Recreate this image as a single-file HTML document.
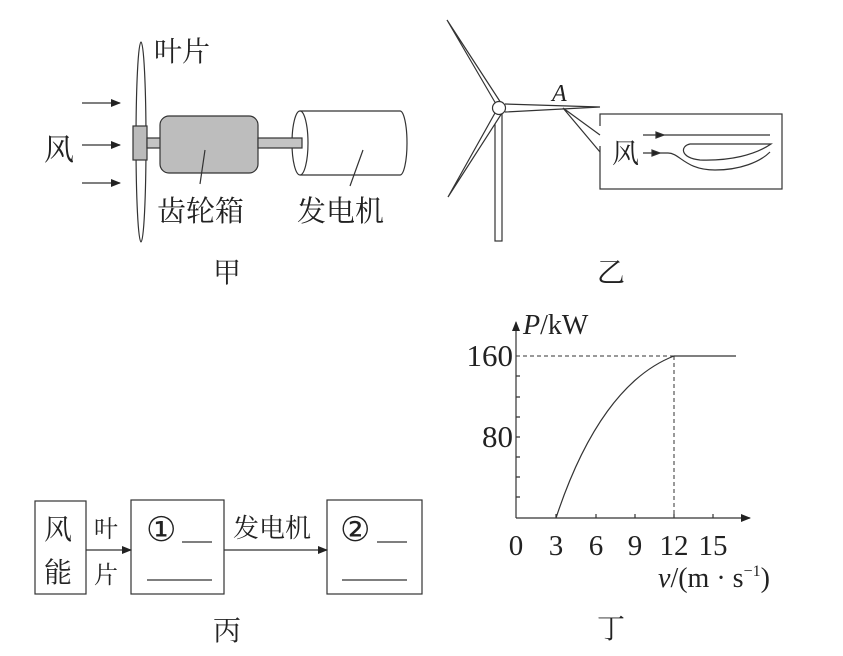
<!DOCTYPE html>
<html><head><meta charset="utf-8"><style>
html,body{margin:0;padding:0;background:#fff;}
svg{display:block;}
.cn{font-family:"Liberation Serif","Noto Serif CJK SC",serif;fill:#222;}
.sr{font-family:"Liberation Serif",serif;fill:#222;}
</style></head><body>
<svg width="843" height="656" viewBox="0 0 843 656" xmlns="http://www.w3.org/2000/svg">
<defs>
<marker id="ah" markerWidth="10" markerHeight="8" refX="9" refY="4" orient="auto" markerUnits="userSpaceOnUse">
<path d="M0,0 L10,4 L0,8 Z" fill="#222"/></marker>
</defs>
<g stroke="#333" fill="none" stroke-width="1.2">
<line x1="82" y1="103" x2="120" y2="103" marker-end="url(#ah)"/>
<line x1="82" y1="145" x2="120" y2="145" marker-end="url(#ah)"/>
<line x1="82" y1="183" x2="120" y2="183" marker-end="url(#ah)"/>
<ellipse cx="141" cy="142" rx="5" ry="100"/>
<rect x="133" y="126" width="14" height="34" fill="#bbb"/>
<rect x="147" y="138" width="14" height="10" fill="#c4c4c4"/>
<rect x="160" y="116" width="98" height="57" rx="9" fill="#bdbdbd"/>
<path d="M300,111 L400,111 A7,32 0 0 1 400,175 L300,175" fill="#fff"/>
<ellipse cx="300" cy="143" rx="8" ry="32" fill="#fff"/>
<rect x="258" y="138" width="44" height="10" fill="#c4c4c4"/>
<line x1="205" y1="150" x2="200" y2="184"/>
<line x1="363" y1="150" x2="350" y2="186"/>
<rect x="495" y="112" width="7" height="129" fill="#fff"/>
<path d="M496,104 L447,20 L501,103" fill="#fff"/>
<path d="M495,113 L448,197 L502,113" fill="#fff"/>
<path d="M505,104 L600,107 L505,112" fill="#fff"/>
<circle cx="499" cy="108" r="6.5" fill="#fff"/>
<rect x="600" y="114" width="182" height="75" fill="#fff"/>
<line x1="600" y1="126" x2="600" y2="146" stroke="#fff" stroke-width="3"/>
<path d="M563,108 L600,135 M563,108 L600,152"/>
<line x1="643" y1="135" x2="770" y2="135"/>
<path d="M656,132 L664,135 L656,138 Z" fill="#222"/>
<path d="M643,153 L668,153 C680,153 685,170 715,170 C740,170 760,162 770,152"/>
<path d="M652,150 L660,153 L652,156 Z" fill="#222"/>
<path d="M771,144 L690,144 C680,146 680,158 700,160 C730,161 755,155 771,144 Z"/>
<rect x="35" y="501" width="51" height="93"/>
<rect x="131" y="500" width="93" height="94"/>
<rect x="327" y="500" width="95" height="94"/>
<line x1="86" y1="550" x2="131" y2="550" marker-end="url(#ah)"/>
<line x1="224" y1="550" x2="327" y2="550" marker-end="url(#ah)"/>
<line x1="182" y1="542" x2="212" y2="542"/>
<line x1="147" y1="580" x2="212" y2="580"/>
<line x1="377" y1="542" x2="407" y2="542"/>
<line x1="342" y1="580" x2="407" y2="580"/>
<line x1="516" y1="518" x2="516" y2="322" marker-end="url(#ah)"/>
<line x1="516" y1="518" x2="750" y2="518" marker-end="url(#ah)"/>
<path d="M516,376h4M516,397h4M516,417h4M516,437h4M516,457h4M516,477h4M516,497h4M556,518v-4M596,518v-4M635,518v-4M674,518v-4M713,518v-4"/>
<line x1="516" y1="356" x2="674" y2="356" stroke-dasharray="4,3" stroke-width="1"/>
<line x1="674" y1="356" x2="674" y2="518" stroke-dasharray="4,3" stroke-width="1"/>
<path d="M556,518 C585,430 625,375 674,356 L736,356"/>
</g>
<g class="cn">
<text x="154" y="61" font-size="28">叶片</text>
<text x="44" y="160" font-size="30">风</text>
<text x="157" y="221" font-size="29">齿轮箱</text>
<text x="297" y="221" font-size="29">发电机</text>
<text x="213" y="282" font-size="28">甲</text>
<text x="612" y="163" font-size="27">风</text>
<text x="597" y="282" font-size="28">乙</text>
<text x="44" y="539" font-size="28">风</text>
<text x="44" y="582" font-size="28">能</text>
<text x="94" y="537" font-size="24">叶</text>
<text x="94" y="583" font-size="24">片</text>
<text x="233" y="537" font-size="26">发电机</text>
<text x="213" y="640" font-size="28">丙</text>
<text x="597" y="638" font-size="28">丁</text>
</g>
<g class="sr">
<text x="146" y="541" font-size="34">①</text>
<text x="340" y="541" font-size="34">②</text>
<text x="552" y="101" font-size="24" font-style="italic">A</text>
<text x="523" y="334" font-size="28"><tspan font-style="italic">P</tspan>/kW</text>
<text x="513" y="366" font-size="31" text-anchor="end">160</text>
<text x="513" y="447" font-size="31" text-anchor="end">80</text>
<g font-size="29" text-anchor="middle">
<text x="516" y="555">0</text><text x="556" y="555">3</text><text x="596" y="555">6</text><text x="635" y="555">9</text><text x="674" y="555">12</text><text x="713" y="555">15</text>
</g>
<text x="658" y="587" font-size="28"><tspan font-style="italic">v</tspan>/(m · s<tspan font-size="16" dy="-11">−1</tspan><tspan dy="11">)</tspan></text>
</g>
</svg>
</body></html>
